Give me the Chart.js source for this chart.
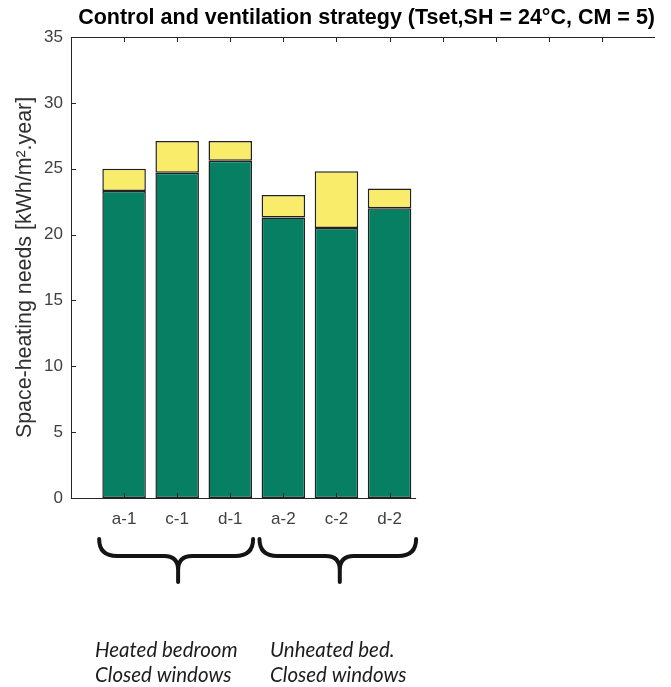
<!DOCTYPE html>
<html>
<head>
<meta charset="utf-8">
<script src="https://cdn.jsdelivr.net/npm/chart.js@4.4.1/dist/chart.umd.min.js"></script>
<style>
  html, body { margin: 0; padding: 0; background: #ffffff; }
  #wrap { width: 671px; height: 687px; position: relative; }
</style>
</head>
<body>
<div id="wrap"><canvas id="c" width="671" height="687"></canvas></div>
<script>
// Cases (heating control / ventilation strategy)
const categories = ['a-1', 'c-1', 'd-1', 'a-2', 'c-2', 'd-2'];
// Space-heating needs, kWh/m².year: base part and additional part stacked on top
const baseNeeds  = [23.3, 24.7, 25.6, 21.3, 20.5, 22.0];
const extraNeeds = [1.7, 2.4, 1.5, 1.7, 4.3, 1.5];
const yTicks = [0, 5, 10, 15, 20, 25, 30, 35];
const groupNotes = [
  ['Heated bedroom', 'Closed windows'],
  ['Unheated bed.', 'Closed windows']
];

// Axis runs over 11 slots: cases sit on slots 1..6, the rest stay empty
const SLOTS = 12;
const labels = [];
for (let i = 0; i < SLOTS; i++) labels.push(i >= 1 && i <= categories.length ? categories[i - 1] : '');
const pad = arr => labels.map((l, i) => (i >= 1 && i <= arr.length ? arr[i - 1] : null));

const AXIS = '#262626';
const TICKTXT = '#404040';
const FONT = '"Liberation Sans", Arial, sans-serif';

const framePlugin = {
  id: 'frame',
  afterDatasetsDraw(chart) {
    const { ctx, chartArea: a, scales: { x, y } } = chart;
    ctx.save();
    ctx.strokeStyle = AXIS;
    ctx.lineWidth = 1;
    ctx.beginPath();
    // left axis
    ctx.moveTo(a.left + 0.5, a.top);
    ctx.lineTo(a.left + 0.5, a.bottom);
    // top border
    ctx.moveTo(a.left, a.top + 0.5);
    ctx.lineTo(a.right, a.top + 0.5);
    // bottom axis (only under the bars)
    const xEnd = x.getPixelForValue(categories.length + 0.5);
    ctx.moveTo(a.left, Math.round(a.bottom) + 0.5);
    ctx.lineTo(xEnd, Math.round(a.bottom) + 0.5);
    // inward ticks on the y axis
    yTicks.forEach(v => {
      const py = Math.round(y.getPixelForValue(v)) + 0.5;
      ctx.moveTo(a.left, py);
      ctx.lineTo(a.left + 5, py);
    });
    // inward ticks on the top border
    for (let i = 1; i < SLOTS - 1; i++) {
      const px = Math.round(x.getPixelForValue(i)) + 0.5;
      ctx.moveTo(px, a.top);
      ctx.lineTo(px, a.top + 5);
    }
    // inward ticks on the bottom axis
    for (let i = 1; i <= categories.length; i++) {
      const px = Math.round(x.getPixelForValue(i)) + 0.5;
      ctx.moveTo(px, a.bottom);
      ctx.lineTo(px, a.bottom - 5);
    }
    ctx.stroke();
    ctx.restore();
  },
  afterDraw(chart) {
    const { ctx, scales: { x } } = chart;
    ctx.save();
    ctx.strokeStyle = '#141414';
    ctx.lineWidth = 4;
    ctx.lineCap = 'round';
    ctx.lineJoin = 'round';
    const step = x.getPixelForValue(2) - x.getPixelForValue(1);
    const braces = [
      [x.getPixelForValue(1) - 0.47 * step, x.getPixelForValue(3) + 0.43 * step],
      [x.getPixelForValue(4) - 0.45 * step, x.getPixelForValue(6) + 0.5 * step]
    ];
    const yTop = 539, yMid = 556, yBot = 582, r = 18, rm = 14;
    braces.forEach(([x1, x2]) => {
      const xm = (x1 + x2) / 2 + 2;
      ctx.beginPath();
      ctx.moveTo(x1, yTop);
      ctx.quadraticCurveTo(x1, yMid, x1 + r, yMid);
      ctx.lineTo(xm - rm, yMid);
      ctx.quadraticCurveTo(xm, yMid, xm, yMid + 14);
      ctx.lineTo(xm, yBot);
      ctx.moveTo(xm, yMid + 14);
      ctx.quadraticCurveTo(xm, yMid, xm + rm, yMid);
      ctx.lineTo(x2 - r, yMid);
      ctx.quadraticCurveTo(x2, yMid, x2, yTop);
      ctx.stroke();
    });
    // group notes
    ctx.fillStyle = '#1c1c1c';
    ctx.font = 'italic 20.5px Lato, "Liberation Sans", sans-serif';
    ctx.textBaseline = 'middle';
    ctx.textAlign = 'left';
    const noteX = [95, 270];
    groupNotes.forEach((lines, gi) => {
      lines.forEach((t, li) => ctx.fillText(t, noteX[gi], 650 + li * 25));
    });
    ctx.restore();
  }
};

new Chart(document.getElementById('c'), {
  type: 'bar',
  data: {
    labels: labels,
    datasets: [
      {
        label: 'Base',
        data: pad(baseNeeds),
        backgroundColor: '#067f63',
        borderColor: '#222222',
        borderWidth: 1.5,
        borderSkipped: false
      },
      {
        label: 'Additional',
        data: pad(extraNeeds),
        backgroundColor: '#f8ec6a',
        borderColor: '#222222',
        borderWidth: 1.5,
        borderSkipped: false
      }
    ]
  },
  plugins: [framePlugin],
  options: {
    responsive: false,
    animation: false,
    events: [],
    layout: { padding: { left: 0, right: 16, top: 0, bottom: 149 } },
    categoryPercentage: 1,
    barPercentage: 0.82,
    plugins: {
      legend: { display: false },
      tooltip: { enabled: false },
      title: {
        display: true,
        text: 'Control and ventilation strategy (Tset,SH = 24°C, CM = 5)',
        align: 'end',
        color: '#000000',
        font: { family: FONT, size: 21.5, weight: 'bold', lineHeight: 1.2 },
        padding: { top: 5, bottom: 6.2 }
      }
    },
    scales: {
      x: {
        type: 'category',
        stacked: true,
        offset: false,
        grid: { display: false, drawTicks: false },
        border: { display: false },
        ticks: {
          autoSkip: false,
          maxRotation: 0,
          minRotation: 0,
          padding: 11,
          color: TICKTXT,
          font: { family: FONT, size: 17 }
        },
        afterFit(s) { s.height = 40; }
      },
      y: {
        stacked: true,
        min: 0,
        max: 35,
        grid: { display: false, drawTicks: false },
        border: { display: false },
        ticks: {
          stepSize: 5,
          padding: 8,
          color: TICKTXT,
          font: { family: FONT, size: 17 }
        },
        title: {
          display: true,
          text: 'Space-heating needs [kWh/m².year]',
          color: '#303030',
          font: { family: FONT, size: 21.4 },
          padding: { top: 12, bottom: 0 }
        },
        afterFit(s) { s.width = 71; }
      }
    }
  }
});
</script>
</body>
</html>
